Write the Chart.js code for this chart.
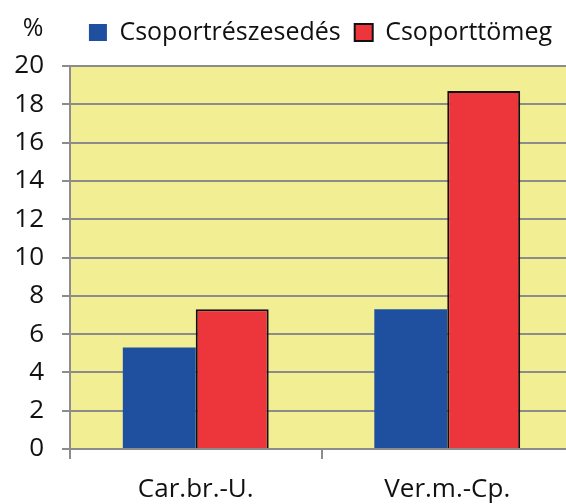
<!DOCTYPE html>
<html>
<head>
<meta charset="utf-8">
<script src="https://cdn.jsdelivr.net/npm/chart.js@4.4.1/dist/chart.umd.min.js"></script>
<style>
  html, body { margin: 0; padding: 0; background: #fff; overflow: hidden; }
  #wrap { width: 566px; height: 504px; overflow: hidden; }
</style>
</head>
<body>
<div id="wrap"><canvas id="myChart" width="573" height="504"></canvas></div>
<script>
// Categories and series
const categories = ['Car.br.-U.', 'Ver.m.-Cp.'];
const groupShare = [5.3, 7.3];   // Csoportrészesedés
const groupMass = [7.3, 18.7];   // Csoporttömeg
const yTicks = [0, 2, 4, 6, 8, 10, 12, 14, 16, 18, 20];

const FONT = 'Open Sans';

// Yellow plot background and the "%" unit label
const plotBackground = {
  id: 'plotBackground',
  beforeDraw(chart) {
    const { ctx, chartArea } = chart;
    ctx.save();
    ctx.fillStyle = '#f1ee93';
    ctx.fillRect(chartArea.left, chartArea.top, chartArea.right - chartArea.left, chartArea.bottom - chartArea.top);
    ctx.restore();
  },
  afterDraw(chart) {
    const ctx = chart.ctx;
    ctx.save();
    ctx.font = '25px "' + FONT + '"';
    ctx.fillStyle = '#111';
    ctx.textAlign = 'center';
    ctx.textBaseline = 'middle';
    ctx.fillText('%', 33, 29);
    ctx.restore();
  }
};

// Extra room under the legend, and move it to where the reference one sits
const legendShift = {
  id: 'legendShift',
  beforeLayout(chart) {
    const lg = chart.legend;
    if (lg && !lg._patched) {
      const origFit = lg.fit;
      lg.fit = function () {
        origFit.call(this);
        this.height += 11;
      };
      lg._patched = true;
    }
  },
  afterLayout(chart) {
    const lg = chart.legend;
    const dx = 34;
    lg.left += dx;
    lg.right += dx;
  }
};

const ctx = document.getElementById('myChart').getContext('2d');
const myChart = new Chart(ctx, {
  type: 'bar',
  data: {
    labels: categories,
    datasets: [{
      label: 'Csoportrészesedés',
      data: groupShare,
      backgroundColor: '#1f4f9f',
      borderWidth: 0
    }, {
      label: 'Csoporttömeg',
      data: groupMass,
      backgroundColor: '#ec363b',
      borderColor: '#111',
      borderWidth: 2
    }]
  },
  options: {
    responsive: false,
    animation: false,
    layout: { padding: { top: 6, left: 0, right: 0, bottom: 0 } },
    datasets: {
      bar: { categoryPercentage: 0.58, barPercentage: 1 }
    },
    plugins: {
      legend: {
        position: 'top',
        align: 'center',
        labels: {
          boxWidth: 18,
          boxHeight: 17,
          padding: 14,
          color: '#111',
          font: { family: FONT, size: 25 }
        }
      },
      tooltip: { enabled: false }
    },
    scales: {
      x: {
        afterFit(scale) { scale.height = 55; },
        grid: {
          offset: true,
          drawOnChartArea: false,
          drawTicks: true,
          tickLength: 10,
          color: '#8c8c8c',
          lineWidth: 2
        },
        border: { display: true, color: '#8c8c8c', width: 2 },
        ticks: {
          color: '#111',
          padding: 15,
          font: { family: FONT, size: 26 }
        }
      },
      y: {
        min: 0,
        max: 20,
        afterFit(scale) { scale.width = 70; },
        afterBuildTicks(scale) { scale.ticks = yTicks.map(v => ({ value: v })); },
        grid: {
          color: '#8c8c8c',
          lineWidth: 2,
          tickLength: 8
        },
        border: { display: true, color: '#8c8c8c', width: 2 },
        ticks: {
          color: '#111',
          padding: 18,
          font: { family: FONT, size: 26 }
        }
      }
    }
  },
  plugins: [plotBackground, legendShift]
});
</script>
</body>
</html>
